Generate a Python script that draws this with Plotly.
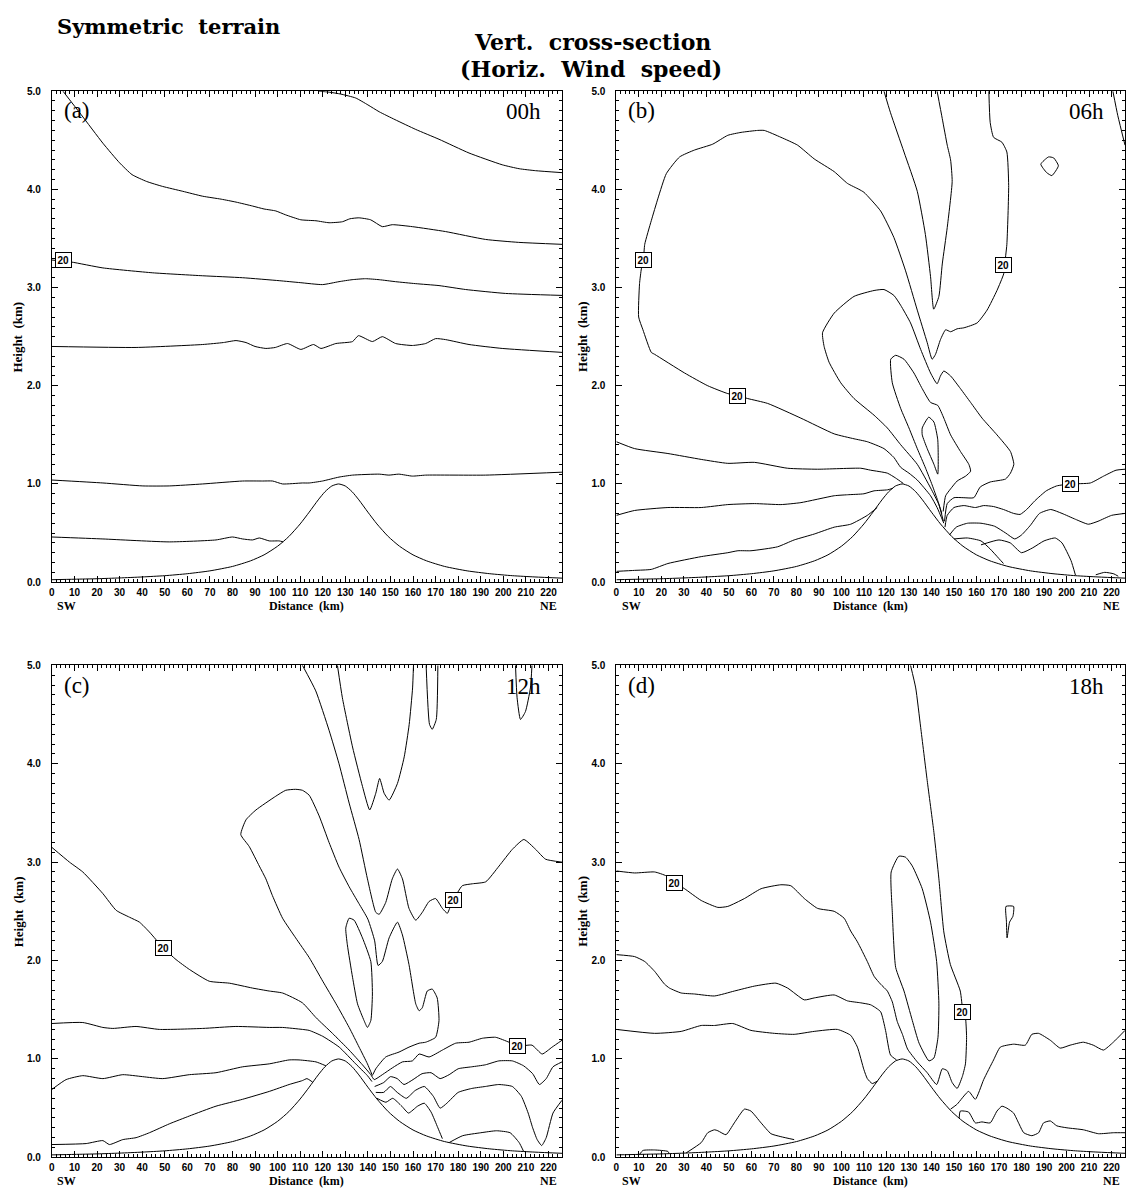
import plotly.graph_objects as go

FIG_W, FIG_H = 1132, 1197
X_RANGE = [0, 226]
Y_RANGE = [0, 5]

# ---------------- data (km) ----------------
TERRAIN_X = [0, 10, 20, 30, 40, 50, 60, 70, 80, 88, 94, 100, 105, 110, 114, 118, 121, 124, 127,
             130, 133, 136, 140, 144, 149, 154, 160, 166, 174, 184, 194, 204, 214, 226]
TERRAIN_H = [0.025, 0.030, 0.035, 0.043, 0.053, 0.066, 0.086, 0.115, 0.160, 0.217, 0.278, 0.366,
             0.465, 0.593, 0.713, 0.838, 0.921, 0.979, 1.0, 0.979, 0.921, 0.838, 0.713, 0.593,
             0.465, 0.366, 0.278, 0.217, 0.160, 0.115, 0.086, 0.066, 0.053, 0.041]

# panel (a) 00h
A1 = [(4.9,5.0),(13,4.76),(22.6,4.47),(30,4.27),(35.5,4.15),(42,4.08),(49,4.03),(58,3.98),(66.8,3.93),
      (75,3.90),(81.6,3.87),(88.9,3.83),(94,3.80),(99.2,3.78),(103.6,3.74),(110.3,3.69),(117,3.68),
      (122.8,3.66),(128.7,3.67),(132,3.70),(136,3.71),(141.2,3.69),(146.4,3.62),(150.8,3.64),
      (159.7,3.62),(174.4,3.57),(192.1,3.49),(206.8,3.46),(226,3.44)]
A2 = [(118,5.0),(122.8,4.99),(128,4.97),(134.6,4.93),(140,4.86),(145,4.79),(152,4.71),(161.2,4.61),
      (171.5,4.51),(184.8,4.37),(199.5,4.25),(207,4.21),(214.3,4.19),(226,4.17)]
A3 = [(0,3.28),(8.6,3.26),(22.6,3.20),(44.7,3.15),(66.8,3.12),(84.5,3.10),(100.7,3.07),(110,3.05),
      (119.9,3.03),(127.2,3.06),(133,3.08),(139,3.09),(145,3.08),(152.2,3.06),(161,3.04),(171.5,3.02),
      (183.3,2.98),(201,2.94),(226,2.92)]
A4 = [(0,2.40),(37.3,2.39),(66.8,2.42),(76,2.44),(81.6,2.46),(86,2.44),(90,2.40),(94.8,2.38),(99,2.39),
      (104.4,2.43),(110.3,2.37),(115.9,2.42),(119.2,2.38),(125.8,2.43),(133.2,2.45),(135.8,2.51),
      (142,2.45),(146.4,2.50),(152.3,2.43),(159.7,2.41),(165.6,2.43),(170,2.48),(174.4,2.47),
      (184.8,2.42),(199.5,2.38),(226,2.34)]
A5 = [(0,1.04),(22.6,1.01),(40.3,0.98),(52,0.98),(66.8,1.00),(84.5,1.03),(93.4,1.03),(97.8,1.03),
      (102.2,1.00),(111,1.01),(114,1.01),(119.9,1.03),(127.2,1.07),(133.2,1.09),(145,1.10),(149.3,1.09),
      (153.7,1.10),(159.7,1.08),(165.6,1.09),(192.1,1.09),(226,1.12)]
A6 = [(0,0.46),(22.6,0.44),(52,0.41),(72.7,0.43),(80,0.46),(84.5,0.44),(88.9,0.43),(91.9,0.45),
      (96.3,0.42),(100.7,0.42),(102.5,0.41)]
LABELS_A = [(5.1,3.28)]

# panel (b) 06h
B1 = [(145.5,0.60),(142.5,0.76),(139.6,0.88),(133.7,1.04),(130,1.11),(126.3,1.17),(123.3,1.27),
      (118.9,1.36),(111.5,1.43),(105.6,1.46),(96.8,1.51),(82,1.67),(67.2,1.82),(58.3,1.87),(54,1.90),
      (49.5,1.92),(40.6,2.0),(30.3,2.13),(17,2.32),(15.5,2.34),(11.8,2.57),(9.9,2.70),(10.3,3.04),
      (11.1,3.19),(12,3.28),(12.6,3.44),(15.5,3.68),(18.5,3.91),(22.2,4.16),(28.1,4.33),(34.7,4.40),
      (42.8,4.46),(49.5,4.55),(55.4,4.58),(62.8,4.60),(65.7,4.60),(73.1,4.53),(80.5,4.45),(87.9,4.31),
      (96.8,4.18),(102.7,4.06),(107.8,4.0),(110,3.97),(117.4,3.78),(123.3,3.51),(128.5,3.17),
      (133.7,2.77),(138.1,2.44),(140.3,2.27),(141.8,2.32),(144,2.47),(146.3,2.57),(148.5,2.55),
      (151.4,2.58),(154.4,2.59),(160.3,2.64),(164.7,2.77),(169.1,2.97),(172.1,3.14),(172.5,3.23),
      (173.5,3.44),(174.3,4.04),(173.5,4.38),(171.3,4.48),(167.6,4.53),(166.1,4.68),(165.5,5.0)]
B2 = [(0,1.43),(8.1,1.36),(22.9,1.31),(37.7,1.25),(49.5,1.21),(61.3,1.22),(76.1,1.16),(89.4,1.15),
      (108.6,1.16),(113,1.14),(120.4,1.11),(124.1,1.06),(127.5,1.005)]
B3 = [(0,0.68),(8.1,0.73),(22.9,0.76),(37.7,0.76),(49.5,0.79),(61.3,0.80),(73.1,0.79),(82,0.81),
      (96.8,0.88),(102.7,0.89),(110,0.90),(114.5,0.93),(120.4,0.94),(122.8,0.955)]
B4 = [(0,0.11),(8.1,0.12),(15.5,0.13),(22.9,0.19),(37.7,0.26),(49.5,0.30),(54,0.32),(59.8,0.32),
      (71.6,0.36),(79,0.43),(87.9,0.49),(96.8,0.56),(104.1,0.59),(111.5,0.68),(115.9,0.76)]
B5 = [(118.9,5.0),(121.8,4.78),(127.8,4.38),(133.7,3.98),(137.3,3.54),(139.6,3.11),(141,2.78),
      (143.3,2.91),(144.8,3.24),(147,3.61),(149.2,4.08),(148.5,4.3),(147,4.45),(144.8,4.72),(142.5,5.0)]
B6 = [(220.6,5.0),(222.8,4.75),(226,4.45)]
B7 = [(188.6,4.256),(192.0,4.33),(194.3,4.32),(196.4,4.24),(193.5,4.14),(191.2,4.17),(188.6,4.256)]
B8 = [(145.3,0.62),(143.3,0.79),(139.6,0.96),(133.7,1.20),(126.3,1.40),(120.4,1.57),(114.5,1.70),
      (105.6,1.87),(99.7,2.03),(94.5,2.24),(92.3,2.40),(91.6,2.54),(96.8,2.74),(105.6,2.91),
      (114.5,2.97),(118.9,2.98),(123.3,2.92),(126.3,2.82),(130.7,2.64),(135.2,2.37),(139.6,2.13),
      (142.5,2.02),(144,2.10),(145.5,2.15),(148.5,2.10),(152.9,1.97),(157.4,1.83),(162.5,1.67),
      (169.1,1.50),(175.1,1.33),(176.6,1.20),(175.1,1.11),(172.9,1.05),(166.1,1.02),(161.7,0.97),
      (158.8,0.86),(154.4,0.86),(150,0.86),(147,0.80),(145.8,0.62)]
B9 = [(144.6,0.70),(142.8,0.83),(140.3,0.99),(137.4,1.16),(133.7,1.36),(130,1.57),(126.3,1.77),
      (122.6,2.03),(121.9,2.27),(124.1,2.31),(127.8,2.27),(132.2,2.13),(135.9,1.97),(139.6,1.83),
      (142.8,1.80),(145.5,1.67),(148.5,1.50),(152.9,1.33),(156.6,1.20),(157.4,1.13),(155.2,1.08),
      (151.4,1.03),(148.5,0.95),(146.3,0.88),(145.2,0.72)]
B10 = [(135.9,1.57),(138.8,1.68),(141.1,1.63),(142.8,1.45),(142.8,1.10),(141.1,1.20),(138.1,1.36),
       (135.9,1.50),(135.9,1.57)]
B11 = [(226,1.15),(222,1.14),(216.5,1.08),(210.6,1.01),(201.6,1.00),(195.6,0.98),(191,0.93),(186,0.83),
       (182.3,0.74),(179.4,0.69),(176.5,0.70),(172,0.74),(167.6,0.77),(163.2,0.78),(159.5,0.76),
       (154.4,0.78),(150,0.76),(147,0.68),(146,0.56)]
B12 = [(226,0.70),(220,0.68),(214,0.62),(209.7,0.59),(204,0.64),(198,0.70),(193,0.74),(188,0.70),
       (184,0.58),(180,0.48),(177,0.44),(173,0.50),(168,0.57),(162,0.60),(156,0.60),(151,0.56),(148,0.48)]
B13 = [(162,0.38),(170,0.43),(175,0.40),(180,0.30),(185,0.35),(190,0.42),(195,0.45),(198,0.40),
       (202,0.22),(204,0.07)]
B14 = [(150,0.44),(156,0.45),(162,0.42),(166,0.34),(170,0.24),(172,0.19)]
B15 = [(213,0.075),(217,0.10),(221,0.085),(223,0.06)]
LABELS_B = [(12,3.28),(54,1.90),(171.9,3.23),(201.6,1.0)]

# panel (c) 12h
C1 = [(0,3.15),(7.8,3.0),(13.7,2.90),(22.6,2.68),(28.5,2.51),(34.4,2.44),(38.8,2.39),(43.2,2.29),
      (49.3,2.13),(55,2.01),(60.9,1.91),(69.7,1.79),(78.6,1.77),(88.9,1.72),(96.3,1.69),(102.2,1.67),
      (111,1.57),(117,1.42),(124.3,1.26),(131.7,1.09),(137.6,0.94),(141.3,0.84),(142.8,0.79),
      (146.4,0.84),(150.9,0.91),(155.3,0.97),(159.7,0.98),(162.7,1.05),(167.1,1.02),(173,1.09),
      (178.9,1.16),(184.8,1.17),(190.7,1.21),(196.6,1.22),(202.5,1.17),(206.3,1.13),(212.7,1.14),
      (217.2,1.05),(221.6,1.12),(226,1.19)]
C2 = [(0,1.36),(13.7,1.37),(22.6,1.32),(27,1.31),(37.3,1.33),(47.6,1.30),(66.8,1.31),(81.5,1.33),
      (96.3,1.32),(102.2,1.32),(111,1.30),(114,1.29),(120,1.23),(127.3,1.12),(134.6,0.95),(139.8,0.83),
      (141.8,0.77)]
C3 = [(0,0.69),(6.3,0.79),(13.7,0.83),(22.6,0.80),(31.4,0.84),(40.2,0.82),(49.1,0.80),(60.9,0.84),
      (72.7,0.86),(84.5,0.92),(96.3,0.95),(105.1,0.99),(109.5,0.99),(117,0.97),(121.4,0.93)]
C4 = [(0,0.13),(15.2,0.14),(22.6,0.17),(25.5,0.13),(31.4,0.18),(37.3,0.20),(43.2,0.25),(52,0.34),
      (60.9,0.42),(72.7,0.52),(84.5,0.59),(96.3,0.67),(105.1,0.74),(111,0.78),(113,0.80),(115.5,0.765)]
C5 = [(111,5.0),(116.9,4.74),(122.8,4.34),(127.2,4.0),(131.7,3.60),(136.1,3.23),(139.8,2.83),
      (143.5,2.49),(145,2.47),(147.9,2.59),(150.8,2.83),(153.1,2.93),(155.3,2.83),(158.2,2.53),
      (161.2,2.41),(164.1,2.49),(167.1,2.60),(170,2.63),(173,2.53),(175.2,2.48),(176.7,2.56),(178,2.62),
      (181.8,2.76),(186.3,2.78),(192.2,2.80),(198.1,2.96),(204,3.13),(209.1,3.23),(214.3,3.13),
      (218.7,3.03),(226,3.0)]
C6 = [(126.5,5.0),(128.7,4.67),(133.2,4.17),(137.6,3.77),(140.8,3.53),(143.5,3.70),(145.2,3.85),
      (147.2,3.70),(149.4,3.63),(153.1,3.80),(156.1,4.07),(158.3,4.40),(159.8,4.77),(160.2,5.0)]
C7 = [(165.8,5.0),(167.3,4.40),(168.5,4.35),(170.3,4.45),(171,5.0)]
C8 = [(205.4,5.0),(206.1,4.67),(207.6,4.45),(209.8,4.53),(212,4.77),(212.7,5.0)]
C9 = [(142,0.83),(139.8,0.95),(136.1,1.12),(131.7,1.32),(125.9,1.56),(120,1.79),(114,2.03),(108,2.23),
      (102.2,2.43),(97.7,2.66),(94.8,2.83),(91.9,2.96),(87.4,3.16),(83.7,3.28),(86,3.43),(90.4,3.53),
      (99.2,3.67),(103.6,3.73),(108,3.74),(111,3.73),(114,3.68),(118.4,3.47),(122.8,3.2),(127.2,2.95),
      (131.7,2.75),(136,2.58),(140,2.42),(143,2.2),(144.5,1.95),(146.4,1.99),(149.4,2.23),(153.1,2.39),
      (155.3,2.26),(158.2,1.96),(161.2,1.56),(162.7,1.49),(164.1,1.52),(166.3,1.69),(168.5,1.71),
      (170.7,1.62),(171.5,1.39),(170,1.22),(165.6,1.17),(162.7,1.16),(158.2,1.12),(153.8,1.07),
      (147.9,1.02),(143.5,0.90),(142.2,0.84)]
C10 = [(131.7,2.43),(133.9,2.41),(137.6,2.23),(141.3,1.99),(142,1.66),(141.3,1.39),(139.8,1.32),
       (138.3,1.39),(135.4,1.56),(133.2,1.83),(130.9,2.16),(130.2,2.33),(131.7,2.43)]
C11 = [(143,0.72),(147,0.76),(150,0.82),(153,0.80),(156,0.74),(160,0.79),(164,0.85),(168,0.86),
       (172,0.80),(176,0.84),(180,0.90),(186,0.92),(192,0.94),(198,0.98),(204,0.98),(209,0.93),
       (213,0.85),(216,0.74),(219,0.80),(222,0.92),(226,0.97)]
C12 = [(143.5,0.66),(147,0.66),(150,0.72),(153,0.66),(157,0.60),(161,0.68),(165,0.72),(169,0.62),
       (172,0.50),(175,0.55),(180,0.66),(186,0.70),(192,0.72),(198,0.74),(204,0.72),(208,0.62),
       (211,0.45),(213,0.30),(215,0.18),(217,0.12),(219,0.2),(222,0.45),(226,0.58)]
C13 = [(144,0.60),(148,0.56),(151,0.60),(155,0.52),(158,0.45),(162,0.52),(165,0.55),(168,0.46),
       (171,0.30),(173,0.19)]
C14 = [(176,0.15),(182,0.22),(190,0.25),(197,0.27),(203,0.25),(207,0.15),(209,0.06)]
LABELS_C = [(49.3,2.13),(178,2.62),(206.3,1.13)]

# panel (d) 18h
D1 = [(0,2.91),(8.1,2.89),(17,2.90),(22.2,2.86),(26,2.79),(30.3,2.73),(37.7,2.61),(45.1,2.54),
      (49.5,2.55),(56.9,2.63),(64.3,2.73),(73.1,2.77),(77.5,2.76),(83.5,2.63),(89.4,2.53),(96.8,2.50),
      (101.2,2.43),(104.1,2.30),(107.1,2.19),(111.5,1.99),(114.5,1.84),(117.4,1.76),(120.4,1.69),
      (122.6,1.58),(124.8,1.38),(127.1,1.25),(129.4,1.10),(133.7,0.97),(138.1,0.86),(142.3,0.74),
      (144.8,0.90),(147,0.88),(149.2,0.76),(151.4,0.70),(153.7,0.82),(155.1,0.95),(155.6,1.22),
      (155.1,1.42),(154,1.48),(152.8,1.69),(148.4,1.96),(145.5,2.29),(143.3,2.83),(141.1,3.30),
      (138.1,3.83),(135.2,4.37),(133,4.77),(130.7,5.0)]
D2 = [(0,2.06),(8.1,2.04),(12.6,1.99),(17,1.89),(21.4,1.76),(23.6,1.72),(28.8,1.67),(34.7,1.66),
      (43.6,1.64),(52.4,1.69),(61.3,1.74),(70.9,1.77),(76.1,1.72),(83.5,1.60),(87.9,1.62),(96.8,1.65),
      (102.7,1.59),(108.6,1.57),(113,1.55),(117.4,1.48),(119.6,1.29),(121.8,1.04),(124.5,0.99)]
D3 = [(0,1.30),(17,1.26),(28.8,1.28),(37.7,1.34),(43.6,1.34),(51.7,1.36),(59.8,1.29),(70.2,1.26),
      (79,1.25),(87.9,1.28),(98.2,1.30),(104.1,1.24),(107.1,1.12),(110,0.89),(111.5,0.80),(113.7,0.75),
      (116,0.775)]
D4 = [(31,0.045),(37.7,0.15),(40.6,0.25),(43.6,0.28),(45.1,0.27),(48.7,0.23),(52.4,0.35),(56.9,0.49),
      (59.8,0.47),(64.3,0.35),(68.7,0.24),(73.1,0.21),(79,0.18)]
D5 = [(10.3,0.03),(11.8,0.07),(17,0.075),(22.9,0.06),(23.5,0.035)]
D7 = [(125.5,3.06),(122.1,2.90),(122.6,2.49),(124.1,1.93),(127.8,1.69),(131.5,1.39),(134.5,1.16),
      (138.9,0.98),(141.1,1.01),(142.9,1.22),(143.3,1.56),(142.3,1.99),(139.6,2.39),(135.9,2.73),
      (131.5,2.96),(128.5,3.05),(125.5,3.06)]
D8 = [(148.5,0.49),(151.4,0.54),(156.5,0.67),(159.5,0.59),(163.2,0.79),(167.6,0.99),(170.6,1.12),
      (176.5,1.15),(181.7,1.14),(184.6,1.25),(187.6,1.26),(192.8,1.19),(197.2,1.11),(201.6,1.14),
      (207.5,1.17),(211.9,1.14),(216.4,1.09),(220.8,1.17),(226,1.29)]
D9 = [(152.3,0.40),(152.8,0.47),(156.5,0.46),(159.5,0.35),(162.4,0.36),(166.1,0.35),(169.1,0.47),
      (171.3,0.52),(173.5,0.50),(176.5,0.45),(178.7,0.35),(181,0.25),(184.6,0.22),(187.6,0.25),
      (189.8,0.35),(192.8,0.37),(195.7,0.32),(200.2,0.30),(207.5,0.28),(214.2,0.24),(220.8,0.25),
      (226,0.25)]
D10 = [(173.1,2.55),(176.5,2.55),(176.2,2.45),(174.7,2.39),(173.6,2.23),(173.3,2.40),(173.1,2.55)]
LABELS_D = [(25.9,2.79),(154,1.48)]

X_TICK_STEP = 10
X_MINOR_STEP = 2
Y_TICK_STEP = 1
Y_MINOR_STEP = 0.1

PANELS = [
    dict(key="a", tag="(a)", time="00h", lines=[A1, A2, A3, A4, A5, A6], labels=LABELS_A),
    dict(key="b", tag="(b)", time="06h",
         lines=[B1, B2, B3, B4, B5, B6, B7, B8, B9, B10, B11, B12, B13, B14, B15], labels=LABELS_B),
    dict(key="c", tag="(c)", time="12h",
         lines=[C1, C2, C3, C4, C5, C6, C7, C8, C9, C10, C11, C12, C13, C14], labels=LABELS_C),
    dict(key="d", tag="(d)", time="18h",
         lines=[D1, D2, D3, D4, D5, D7, D8, D9, D10], labels=LABELS_D),
]

# pixel boxes (left, top, right, bottom)
BOX = {"a": (49, 86, 560.5, 582), "b": (615, 86, 1125, 582),
       "c": (49, 666, 560.5, 1163), "d": (615, 666, 1125, 1163)}


def px(xp):
    return xp / FIG_W


def py(yp):
    return 1 - yp / FIG_H


fig = go.Figure()
annotations = []
SANS = "Liberation Sans"
SERIF = "Liberation Serif"
TITLE_FONT = "DejaVu Serif"
SP = "\u00a0\u00a0"

for i, p in enumerate(PANELS):
    n = "" if i == 0 else str(i + 1)
    xa, ya = "x" + n, "y" + n
    l, t, r, b = BOX[p["key"]]
    axis_common = dict(showline=True, linecolor="black", linewidth=1, mirror="allticks",
                       ticks="inside", tickcolor="black", tickwidth=1, showgrid=False,
                       zeroline=False, fixedrange=True,
                       tickfont=dict(family=SANS, size=10, color="black", weight="bold"))
    fig.layout["xaxis" + n] = dict(
        domain=[px(l), px(r)], range=X_RANGE, anchor=ya, tickmode="linear", tick0=0,
        dtick=X_TICK_STEP, ticklen=6, ticklabelstandoff=1,
        minor=dict(tick0=0, dtick=X_MINOR_STEP, ticks="inside", ticklen=3, tickcolor="black",
                   tickwidth=1, showgrid=False),
        **axis_common)
    fig.layout["yaxis" + n] = dict(
        domain=[py(b), py(t)], range=Y_RANGE, anchor=xa, tickmode="linear", tick0=0,
        dtick=Y_TICK_STEP, tickformat=".1f", ticklen=6, ticklabelstandoff=8,
        minor=dict(tick0=0, dtick=Y_MINOR_STEP, ticks="inside", ticklen=3, tickcolor="black",
                   tickwidth=1, showgrid=False),
        **axis_common)

    fig.add_trace(go.Scatter(x=TERRAIN_X, y=TERRAIN_H, mode="lines", xaxis=xa, yaxis=ya,
                             line=dict(color="black", width=1, shape="spline", smoothing=0.6),
                             hoverinfo="skip", showlegend=False))
    for ln in p["lines"]:
        fig.add_trace(go.Scatter(x=[q[0] for q in ln], y=[q[1] for q in ln], mode="lines",
                                 xaxis=xa, yaxis=ya,
                                 line=dict(color="black", width=1, shape="spline", smoothing=0.5),
                                 hoverinfo="skip", showlegend=False))
    for (lx, ly) in p["labels"]:
        annotations.append(dict(x=lx, y=ly, xref=xa, yref=ya, text="<b>20</b>", showarrow=False,
                                font=dict(family=SANS, size=10, color="black"),
                                bgcolor="white", bordercolor="black", borderwidth=1, borderpad=1.5))
    annotations.append(dict(x=px(l + 10), y=py(t + 20), xref="paper", yref="paper", text=p["tag"],
                            showarrow=False, xanchor="left", yanchor="middle",
                            font=dict(family=SERIF, size=23, color="black")))
    annotations.append(dict(x=px(r - 19), y=py(t + 21), xref="paper", yref="paper", text=p["time"],
                            showarrow=False, xanchor="right", yanchor="middle",
                            font=dict(family=SERIF, size=23, color="black")))
    annotations.append(dict(x=px(l - 34), y=py((t + b) / 2), xref="paper", yref="paper",
                            text="<b>Height" + SP + "(km)</b>", textangle=-90, showarrow=False,
                            xanchor="center", yanchor="middle",
                            font=dict(family=SERIF, size=13, color="black")))
    annotations.append(dict(x=px((l + r) / 2), y=py(b + 24), xref="paper", yref="paper",
                            text="<b>Distance" + SP + "(km)</b>", showarrow=False, xanchor="center",
                            yanchor="middle", font=dict(family=SERIF, size=12, color="black")))
    annotations.append(dict(x=px(l + 15), y=py(b + 24), xref="paper", yref="paper", text="<b>SW</b>",
                            showarrow=False, xanchor="center", yanchor="middle",
                            font=dict(family=SERIF, size=12, color="black")))
    annotations.append(dict(x=px(l + 220 * (r - l) / 226), y=py(b + 24), xref="paper", yref="paper",
                            text="<b>NE</b>", showarrow=False, xanchor="center", yanchor="middle",
                            font=dict(family=SERIF, size=12, color="black")))

annotations.append(dict(x=px(52), y=py(21), xref="paper", yref="paper",
                        text="<b>Symmetric" + SP + "terrain</b>", showarrow=False, xanchor="left",
                        yanchor="middle", font=dict(family=TITLE_FONT, size=21, color="black")))
annotations.append(dict(x=px(591), y=py(36), xref="paper", yref="paper",
                        text="<b>Vert." + SP + "cross-section</b>", showarrow=False, xanchor="center",
                        yanchor="middle", font=dict(family=TITLE_FONT, size=22, color="black")))
annotations.append(dict(x=px(590), y=py(64), xref="paper", yref="paper",
                        text="<b>(Horiz." + SP + "Wind" + SP + "speed)</b>", showarrow=False,
                        xanchor="center", yanchor="middle",
                        font=dict(family=TITLE_FONT, size=22, color="black")))

fig.update_layout(width=FIG_W, height=FIG_H, margin=dict(l=0, r=0, t=0, b=0),
                  paper_bgcolor="white", plot_bgcolor="white", showlegend=False,
                  annotations=annotations)

fig.write_html("out.html")
